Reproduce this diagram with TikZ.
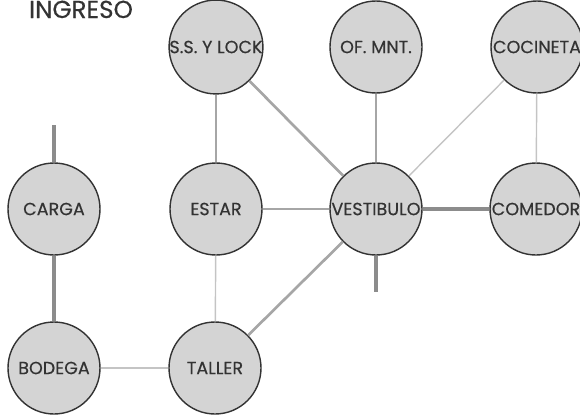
\documentclass[tikz,border=0pt]{standalone}
\usepackage{fontspec}
\setmainfont{Poppins}[FakeBold=0.4]
\usepackage{xcolor}
\definecolor{fillgray}{HTML}{D4D4D4}
\definecolor{ringgray}{HTML}{333333}
\definecolor{linkdark}{HTML}{8C8C8C}
\definecolor{linkmid}{HTML}{A6A6A6}
\definecolor{linklight}{HTML}{C4C4C4}

\begin{document}
\begin{tikzpicture}[
    space/.style={circle, draw=ringgray, fill=fillgray, line width=1pt,
                  minimum size=2.3cm, inner sep=0pt, text=ringgray,
                  font=\fontsize{12.5}{13}\selectfont},
    strong/.style={draw=linkdark, line width=2.2pt},
    medium/.style={draw=linkmid, line width=1.9pt},
    weak/.style={draw=linklight, line width=1pt},
]
\useasboundingbox (0,0) rectangle (14.5,10.35);

% Titulo
\node[text=ringgray, font=\fontsize{17.5}{18}\selectfont, anchor=base west,
      inner sep=0pt] (ingreso) at (0.72,9.9) {INGRESO};

% Fila superior
\node[space] (sslock) at (5.4,9.175) {S.S. Y LOCK};
\node[space] (ofmnt)  at (9.4,9.175) {OF. MNT.};
\node[space] (cocina) at (13.425,9.175) {COCINETA};

% Fila central
\node[space] (carga)  at (1.35,5.125) {CARGA};
\node[space] (estar)  at (5.4,5.125) {ESTAR};
\node[space] (vesti)  at (9.4,5.125) {VESTIBULO};
\node[space] (comedor) at (13.4,5.125) {COMEDOR};

% Fila inferior
\node[space] (bodega) at (1.35,1.15) {BODEGA};
\node[space] (taller) at (5.375,1.15) {TALLER};

% Accesos libres
\coordinate (cargain) at (1.35,7.225);
\coordinate (vestiout) at (9.4,3.05);

% Conexiones
\draw[strong] (cargain) -- (carga.north);
\draw[strong] (carga) -- (bodega);
\draw[weak]   (bodega) -- (taller);
\draw[weak]   (taller) -- (estar);
\draw[medium] (taller) -- (vesti);
\draw[medium] (estar) -- (sslock);
\draw[medium] (estar) -- (vesti);
\draw[medium] (sslock) -- (vesti);
\draw[medium] (ofmnt) -- (vesti);
\draw[weak]   (cocina) -- (vesti);
\draw[weak]   (cocina) -- (comedor);
\draw[strong] (vesti) -- (comedor);
\draw[strong] (vesti.south) -- (vestiout);

\end{tikzpicture}
\end{document}
